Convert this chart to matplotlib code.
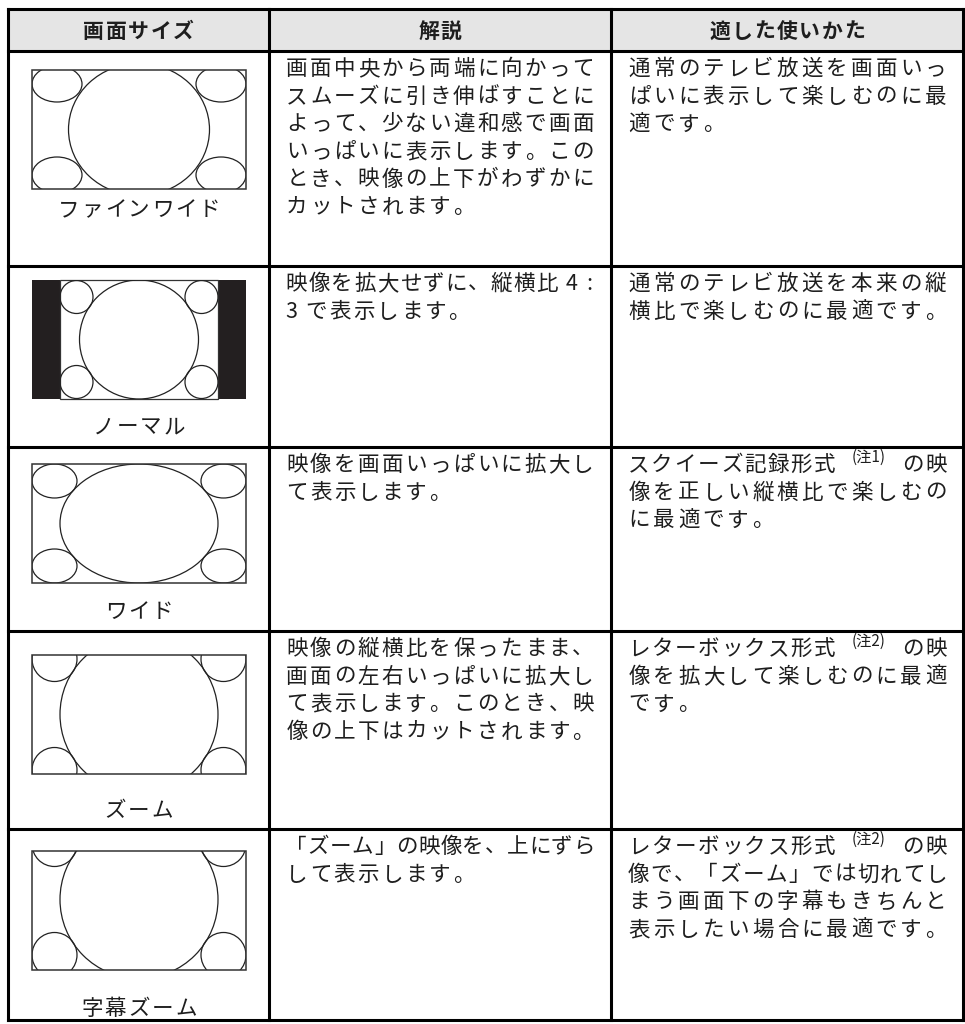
import matplotlib
matplotlib.use("Agg")
import matplotlib.pyplot as plt
from matplotlib.patches import Rectangle, Ellipse, Circle

plt.rcParams['font.family'] = ['Noto Sans CJK JP', 'DejaVu Sans']

headers = ['画面サイズ', '解説', '適した使いかた']
modes = ['ファインワイド', 'ノーマル', 'ワイド', 'ズーム', '字幕ズーム']
descriptions = [
    ['画面中央から両端に向かって', 'スムーズに引き伸ばすことに', 'よって、少ない違和感で画面',
     'いっぱいに表示します。この', 'とき、映像の上下がわずかに', 'カットされます。'],
    ['映像を拡大せずに、縦横比 4 :', '3 で表示します。'],
    ['映像を画面いっぱいに拡大し', 'て表示します。'],
    ['映像の縦横比を保ったまま、', '画面の左右いっぱいに拡大し', 'て表示します。このとき、映',
     '像の上下はカットされます。'],
    ['「ズーム」の映像を、上にずら', 'して表示します。'],
]
usages = [
    ['通常のテレビ放送を画面いっ', 'ぱいに表示して楽しむのに最', '適です。'],
    ['通常のテレビ放送を本来の縦', '横比で楽しむのに最適です。'],
    ['スクイーズ記録形式[注1]の映', '像を正しい縦横比で楽しむの', 'に最適です。'],
    ['レターボックス形式[注2]の映', '像を拡大して楽しむのに最適', 'です。'],
    ['レターボックス形式[注2]の映', '像で、「ズーム」では切れてし', 'まう画面下の字幕もきちんと',
     '表示したい場合に最適です。'],
]

# layout (pixels, y grows downward)
W, H = 965, 1024
col_x = [8, 269, 611, 963]
row_y = [9, 51, 266, 447, 631, 829, 1020]
caption_y = [208, 425, 610, 809, 1007]
FS = 15.5
LINE = 27.6
INK = '#1e1e1e'


def tokens_of(s):
    out = []
    i = 0
    while i < len(s):
        c = s[i]
        if c == '[':
            j = s.index(']', i)
            out.append(('note', '(' + s[i + 1:j] + ')', 2.8))
            i = j + 1
            continue
        if c == ' ':
            out.append(('sp', '', 0.3))
        elif ord(c) < 128:
            out.append(('ch', c, 0.5))
        else:
            out.append(('ch', c, 1.0))
        i += 1
    return out


def draw_line(ax, s, x_left, width, yc, justify, pitch, fs=FS, weight='normal'):
    toks = tokens_of(s)
    total = sum(t[2] for t in toks)
    if justify:
        pitch = width / total
    em = fs * 100 / 72
    base = yc + 0.38 * em
    x = x_left
    for kind, txt, u in toks:
        slot = u * pitch
        if kind == 'ch':
            if u == 1.0:
                ax.text(x + (slot - em) / 2, base, txt, fontsize=fs, ha='left',
                        va='baseline', color=INK, weight=weight)
            else:
                ax.text(x + slot / 2, base, txt, fontsize=fs, ha='center',
                        va='baseline', color=INK, weight=weight)
        elif kind == 'note':
            ax.text(x + slot / 2, yc - 1, txt, fontsize=11, ha='center',
                    va='baseline', color=INK)
        x += slot


def clipped(ax, patch, clip):
    ax.add_patch(patch)
    patch.set_clip_path(clip)


def diagram(ax, kind, x0, y0, w=214, h=119):
    cx, cy = x0 + w / 2, y0 + h / 2
    box = Rectangle((x0, y0), w, h, fill=False, lw=0, transform=ax.transData)
    ax.add_patch(box)
    kw = dict(fill=False, lw=0.9, ec='#222222')
    if kind == 0:
        clipped(ax, Ellipse((cx, cy), 141, 132, **kw), box)
        for ex in (x0 + 25, x0 + w - 25):
            for ey in (y0 + 14, y0 + h - 14):
                clipped(ax, Ellipse((ex, ey), 50, 36, **kw), box)
    elif kind == 1:
        ax.add_patch(Rectangle((x0, y0), 28, h, color='#231f20', lw=0))
        ax.add_patch(Rectangle((x0 + w - 28, y0), 28, h, color='#231f20', lw=0))
        ax.add_patch(Rectangle((x0 + 28, y0), w - 56, h, fill=False, lw=0.9, ec='#333333'))
        clipped(ax, Circle((cx, cy), 59.5, **kw), box)
        for ex in (x0 + 44.5, x0 + w - 44.5):
            for ey in (y0 + 17, y0 + h - 17):
                clipped(ax, Circle((ex, ey), 16.5, **kw), box)
    elif kind == 2:
        clipped(ax, Ellipse((cx, cy), 158, 119, **kw), box)
        for ex in (x0 + 22.5, x0 + w - 22.5):
            for ey in (y0 + 17, y0 + h - 17):
                clipped(ax, Ellipse((ex, ey), 45, 34, **kw), box)
    else:
        d = 0 if kind == 3 else -11
        clipped(ax, Circle((cx, cy + d), 79, **kw), box)
        for ex in (x0 + 22.5, x0 + w - 22.5):
            for ey in (y0 + 4 + d, y0 + h - 4 + d):
                clipped(ax, Circle((ex, ey), 22.5, **kw), box)
    if kind != 1:
        ax.add_patch(Rectangle((x0, y0), w, h, fill=False, lw=1.1, ec='#333333'))


fig = plt.figure(figsize=(W / 100, H / 100), dpi=100)
ax = fig.add_axes([0, 0, 1, 1])
ax.set_xlim(0, W)
ax.set_ylim(H, 0)
ax.axis('off')

# header
ax.add_patch(Rectangle((col_x[0], row_y[0]), col_x[-1] - col_x[0], row_y[1] - row_y[0],
                       color='#e5e5e5', lw=0))
for i, t in enumerate(headers):
    cxh = (col_x[i] + col_x[i + 1]) / 2
    draw_line(ax, t, cxh - len(t) * 22.4 / 2, 0, (row_y[0] + row_y[1]) / 2, False,
              22.4, fs=15, weight='bold')

box_tops = [70, 280, 464, 655, 851]
c2_left, c2_w = 285, 310
c3_left, c3_w = 627, 321
for r in range(5):
    top = row_y[r + 1]
    diagram(ax, r, 32, box_tops[r])
    name = modes[r]
    draw_line(ax, name, 139 - len(name) * 23.5 / 2, 0, caption_y[r], False, 23.5)
    lines = descriptions[r]
    for k, s in enumerate(lines):
        draw_line(ax, s, c2_left, c2_w, top + 16 + k * LINE, k < len(lines) - 1, c2_w / 13)
    lines = usages[r]
    for k, s in enumerate(lines):
        draw_line(ax, s, c3_left, c3_w, top + 16 + k * LINE, k < len(lines) - 1, c3_w / 13)

# grid lines
for y in row_y:
    ax.plot([col_x[0], col_x[-1]], [y, y], color='black', lw=2.2, solid_capstyle='projecting')
for x in col_x:
    ax.plot([x, x], [row_y[0], row_y[-1]], color='black', lw=2.2, solid_capstyle='projecting')

fig.savefig('out.png', dpi=100)
